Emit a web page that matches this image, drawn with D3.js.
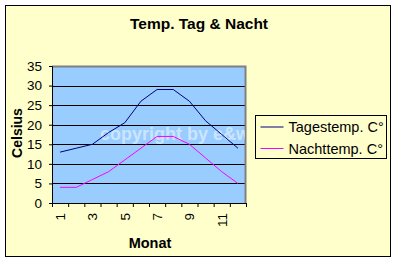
<!DOCTYPE html>
<html>
<head>
<meta charset="utf-8">
<script src="https://cdn.jsdelivr.net/npm/d3@7"></script>
<style>
  body { margin: 0; background: #fff; }
  text { font-family: "Liberation Sans", Arial, sans-serif; }
</style>
</head>
<body>
<div id="chart"></div>
<script>
// data
var months = [1, 2, 3, 4, 5, 6, 7, 8, 9, 10, 11, 12];
var monthLabels = [1, 3, 5, 7, 9, 11];
var tagTemp = [13, 14, 15, 18, 20.5, 26, 29, 29, 26, 21, 17.5, 14];
var nachtTemp = [4, 4, 6, 8, 11, 14, 17, 17, 15, 11.5, 8, 5];
var yTicks = [0, 5, 10, 15, 20, 25, 30, 35];
var seriesNames = ["Tagestemp. C°", "Nachttemp. C°"];
var seriesColors = ["#000080", "#ff00ff"];

var svgWidth = 397;
var svgHeight = 264;

// plot area inside the chart
var margin = { top: 66, right: 151, bottom: 61, left: 52 };
var width = svgWidth - margin.left - margin.right;
var height = svgHeight - margin.top - margin.bottom;

var svg = d3.select("#chart")
  .append("svg")
  .attr("width", svgWidth)
  .attr("height", svgHeight);

// chart background with black frame
svg.append("rect")
  .attr("x", 5.5)
  .attr("y", 5.5)
  .attr("width", 385)
  .attr("height", 251)
  .attr("fill", "#ffffcc")
  .attr("stroke", "#000")
  .attr("stroke-width", 1);

svg.append("text")
  .attr("x", 199)
  .attr("y", 29)
  .attr("text-anchor", "middle")
  .attr("font-size", 15.5)
  .attr("font-weight", "bold")
  .text("Temp. Tag & Nacht");

var chartGroup = svg.append("g")
  .attr("transform", `translate(${margin.left}, ${margin.top})`);

var xScale = d3.scaleLinear()
  .domain([0.5, 12.5])
  .range([0, width]);

var yScale = d3.scaleLinear()
  .domain([0, 35])
  .range([height, 0]);

// plot area
chartGroup.append("rect")
  .attr("width", width)
  .attr("height", height)
  .attr("fill", "#99ccff");

// gridlines
chartGroup.selectAll(".grid")
  .data(yTicks.slice(1, -1))
  .enter()
  .append("line")
  .attr("x1", 0)
  .attr("x2", width)
  .attr("y1", d => Math.round(yScale(d)) + 0.5)
  .attr("y2", d => Math.round(yScale(d)) + 0.5)
  .attr("stroke", "#000")
  .attr("stroke-width", 1);

// gray border on top and right
chartGroup.append("path")
  .attr("d", `M0,0.5H${width - 0.5}V${height}`)
  .attr("fill", "none")
  .attr("stroke", "#808080")
  .attr("stroke-width", 2);

// watermark
chartGroup.append("clipPath")
  .attr("id", "plotClip")
  .append("rect")
  .attr("width", width - 1)
  .attr("height", height);

chartGroup.append("text")
  .attr("clip-path", "url(#plotClip)")
  .attr("x", 48)
  .attr("y", 74)
  .attr("font-size", 18)
  .attr("font-weight", "bold")
  .attr("fill", "#fff")
  .attr("opacity", 0.5)
  .text("copyright by e&w");

// lines
var line = d3.line()
  .x((d, i) => xScale(months[i]))
  .y(d => yScale(d));

[tagTemp, nachtTemp].forEach((values, k) => {
  chartGroup.append("path")
    .datum(values)
    .attr("d", line)
    .attr("fill", "none")
    .attr("stroke", seriesColors[k])
    .attr("stroke-width", 1);
});

// y axis
var leftAxis = d3.axisLeft(yScale)
  .tickValues(yTicks)
  .tickSize(3)
  .tickPadding(7);

var yAxis = chartGroup.append("g").call(leftAxis);
yAxis.select(".domain").attr("stroke", "#000");
yAxis.selectAll("text")
  .attr("font-size", 13.5)
  .attr("font-family", "Liberation Sans, Arial, sans-serif")
  .attr("fill", "#000");

// x axis: ticks at category boundaries
var bottomAxis = d3.axisBottom(xScale)
  .tickValues(d3.range(0.5, 13, 1))
  .tickFormat("")
  .tickSize(4)
  .tickSizeOuter(0);

var xAxis = chartGroup.append("g")
  .attr("transform", `translate(0, ${height})`)
  .call(bottomAxis);

// rotated month labels
xAxis.selectAll(".mlabel")
  .data(monthLabels)
  .enter()
  .append("text")
  .attr("transform", d => `translate(${xScale(d) + 5}, 10) rotate(-90)`)
  .attr("text-anchor", "end")
  .attr("font-size", 13.5)
  .attr("fill", "#000")
  .text(d => d);

// axis titles
svg.append("text")
  .attr("transform", "translate(22, 133) rotate(-90)")
  .attr("text-anchor", "middle")
  .attr("font-size", 14)
  .attr("font-weight", "bold")
  .text("Celsius");

svg.append("text")
  .attr("x", 150)
  .attr("y", 248)
  .attr("text-anchor", "middle")
  .attr("font-size", 14.5)
  .attr("font-weight", "bold")
  .text("Monat");

// legend
var legend = svg.append("g")
  .attr("transform", "translate(255.5, 115.5)");

legend.append("rect")
  .attr("width", 131)
  .attr("height", 43)
  .attr("fill", "#ffffcc")
  .attr("stroke", "#000");

seriesNames.forEach((name, k) => {
  var ly = 11.5 + k * 21.5;
  legend.append("line")
    .attr("x1", 5)
    .attr("x2", 28)
    .attr("y1", ly)
    .attr("y2", ly)
    .attr("stroke", seriesColors[k]);
  legend.append("text")
    .attr("x", 33)
    .attr("y", ly + 5)
    .attr("font-size", 14.5)
    .text(name);
});
</script>
</body>
</html>
